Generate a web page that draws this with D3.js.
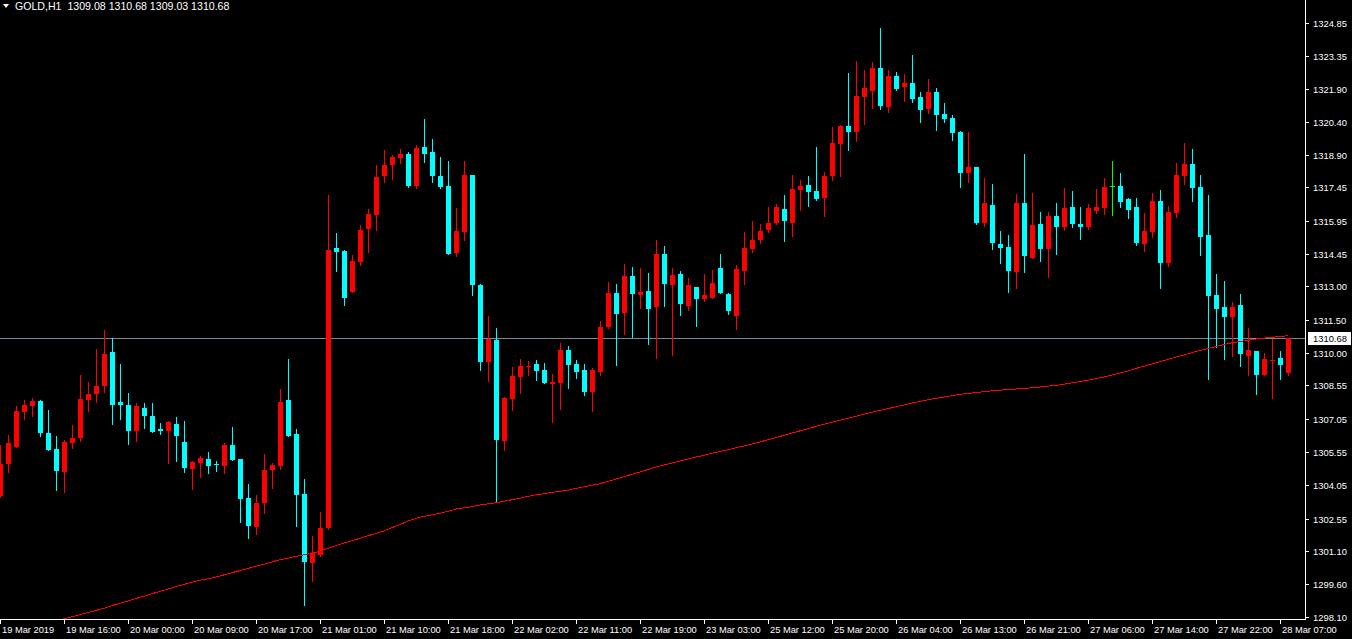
<!DOCTYPE html>
<html><head><meta charset="utf-8">
<script src="https://cdn.jsdelivr.net/npm/d3@7/dist/d3.min.js"></script>
<style>html,body{margin:0;padding:0;background:#000;overflow:hidden}</style>
</head><body>
<script>
// ---- data (GOLD, H1) ----
const symbol = "GOLD,H1";
const openV = [1303.56,1305.00,1305.78,1307.36,1307.61,1307.84,1306.40,1305.68,1304.65,1305.95,
1306.18,1307.88,1308.16,1308.52,1310.05,1307.80,1307.66,1306.49,1307.53,1307.17,
1306.58,1306.49,1306.80,1305.99,1304.78,1305.05,1305.23,1305.00,1304.92,1305.86,
1305.23,1303.48,1302.17,1303.25,1304.74,1304.92,1307.88,1306.36,1303.66,1300.55,
1300.91,1302.13,1314.73,1314.59,1312.75,1314.10,1315.58,1316.21,1317.97,1318.46,
1318.78,1318.96,1317.52,1319.27,1319.05,1317.97,1317.52,1314.50,1315.45,1318.01,
1313.06,1309.60,1310.59,1306.04,1307.93,1308.92,1309.37,1309.51,1309.24,1308.61,
1308.65,1310.14,1309.51,1309.24,1308.25,1309.15,1311.17,1312.70,1311.80,1313.47,
1312.61,1312.79,1312.07,1314.46,1313.06,1313.56,1312.12,1312.97,1312.43,1312.48,
1313.83,1312.66,1311.67,1313.69,1314.68,1315.09,1315.54,1315.85,1316.48,1315.85,
1317.34,1317.56,1317.29,1316.98,1317.97,1319.41,1320.22,1319.95,1321.52,1321.79,
1322.83,1321.07,1322.47,1321.97,1322.15,1321.52,1320.98,1321.75,1320.76,1320.58,
1319.95,1318.10,1318.37,1315.85,1316.66,1314.91,1314.77,1313.65,1316.75,1314.28,
1315.81,1314.68,1316.17,1315.67,1316.57,1315.81,1315.67,1316.39,1316.53,1317.50,
1317.52,1316.93,1316.57,1314.91,1315.45,1316.84,1314.05,1316.30,1317.97,1318.51,
1317.47,1315.31,1312.61,1312.07,1311.62,1312.16,1309.87,1310.09,1309.01,1309.64,
1309.78,1309.08];
const highV = [1305.86,1306.31,1307.61,1307.88,1307.98,1307.88,1307.43,1306.27,1306.08,1306.75,
1309.01,1308.70,1310.18,1311.04,1310.68,1309.51,1308.20,1307.75,1307.75,1307.75,
1306.85,1306.94,1307.12,1306.94,1305.14,1305.37,1305.55,1305.14,1305.94,1306.67,
1305.25,1304.11,1303.61,1305.46,1305.05,1308.38,1309.73,1306.58,1304.33,1301.77,
1302.85,1317.11,1315.40,1314.62,1314.41,1315.76,1316.48,1318.46,1319.14,1318.91,
1319.18,1319.05,1319.36,1320.53,1319.63,1318.82,1318.64,1316.53,1318.64,1318.03,
1313.11,1311.67,1311.13,1308.02,1309.37,1309.73,1309.64,1309.69,1309.55,1309.06,
1310.45,1310.32,1309.69,1309.51,1309.33,1311.44,1313.20,1313.11,1314.01,1313.87,
1313.83,1313.60,1315.09,1314.82,1313.83,1313.69,1313.38,1312.99,1313.56,1313.74,
1314.46,1312.68,1313.96,1315.45,1315.94,1315.81,1316.57,1316.71,1317.11,1318.01,
1317.79,1317.97,1319.27,1318.15,1320.17,1320.26,1322.60,1323.14,1322.74,1323.10,
1324.63,1322.74,1322.65,1322.56,1323.41,1321.75,1322.33,1321.93,1321.25,1320.71,
1319.99,1319.95,1318.39,1317.88,1317.61,1315.49,1315.31,1317.16,1318.96,1317.20,
1316.35,1316.35,1316.75,1317.43,1317.29,1316.57,1316.71,1317.38,1317.88,1318.64,
1318.10,1316.98,1316.98,1316.30,1317.20,1317.34,1316.62,1318.55,1319.45,1319.18,
1318.01,1317.11,1313.56,1313.24,1312.30,1312.66,1311.13,1310.11,1310.00,1310.63,
1310.09,1310.68];
const lowV = [1303.50,1304.66,1305.75,1307.03,1307.18,1306.28,1305.62,1303.84,1303.74,1305.73,
1306.04,1307.39,1307.80,1308.25,1306.81,1307.03,1305.90,1306.04,1306.63,1306.43,
1306.36,1305.05,1305.14,1304.65,1303.88,1304.42,1304.60,1304.69,1304.61,1305.17,
1302.40,1301.68,1301.86,1302.80,1303.93,1304.78,1306.25,1302.22,1298.66,1299.74,
1300.87,1302.08,1313.69,1312.16,1312.73,1313.96,1314.55,1315.54,1317.70,1317.83,
1318.55,1317.47,1317.43,1318.60,1317.70,1317.43,1314.44,1314.37,1315.09,1312.61,
1309.24,1308.74,1303.30,1305.64,1307.43,1308.20,1309.01,1308.79,1308.63,1306.90,
1307.48,1308.43,1308.88,1308.11,1307.39,1309.01,1311.13,1309.46,1310.86,1310.72,
1312.03,1310.41,1309.78,1312.12,1309.91,1311.71,1311.94,1311.22,1312.34,1312.46,
1312.68,1311.76,1311.08,1313.11,1314.55,1314.95,1315.45,1315.81,1315.04,1315.27,
1316.44,1316.62,1316.89,1316.17,1317.79,1317.97,1319.14,1319.54,1320.31,1321.03,
1320.98,1320.85,1321.84,1321.34,1321.30,1320.40,1320.80,1320.04,1320.40,1319.59,
1317.47,1317.70,1315.81,1315.72,1314.68,1314.05,1312.75,1312.93,1313.65,1314.26,
1314.14,1313.42,1314.46,1315.54,1315.67,1315.13,1315.58,1316.30,1316.26,1316.21,
1316.57,1316.08,1314.86,1314.59,1315.22,1312.93,1313.92,1316.12,1317.61,1316.84,
1314.41,1308.83,1310.27,1309.73,1309.87,1309.42,1309.01,1308.16,1308.99,1307.98,
1308.83,1309.03];
const closeV = [1305.00,1305.94,1307.39,1307.66,1307.84,1306.40,1305.64,1304.69,1305.99,1306.18,
1307.93,1308.16,1308.52,1309.96,1307.66,1307.66,1306.49,1307.61,1307.17,1306.45,
1306.49,1306.90,1306.27,1304.83,1305.10,1305.28,1304.92,1304.96,1305.86,1305.19,
1303.43,1302.22,1303.25,1304.74,1304.96,1307.80,1306.27,1303.61,1300.60,1301.00,
1302.13,1314.64,1314.55,1312.48,1314.14,1315.54,1316.26,1317.92,1318.46,1318.82,
1318.96,1317.52,1319.23,1318.96,1317.97,1317.47,1314.46,1315.49,1318.01,1313.06,
1309.60,1310.63,1306.09,1307.98,1308.97,1309.42,1309.42,1309.19,1308.65,1308.70,
1310.14,1309.46,1309.15,1308.25,1309.24,1311.17,1312.70,1311.76,1313.47,1312.66,
1312.75,1311.98,1314.46,1313.11,1313.51,1312.21,1313.06,1312.43,1312.61,1313.15,
1312.70,1311.89,1313.78,1314.73,1315.09,1315.49,1315.85,1316.57,1315.94,1317.38,
1317.52,1317.25,1316.93,1317.97,1319.45,1320.22,1319.95,1321.57,1321.93,1322.83,
1321.12,1322.47,1321.88,1322.15,1321.43,1320.94,1321.75,1320.71,1320.53,1319.90,
1318.10,1318.37,1315.85,1316.75,1314.95,1314.73,1313.69,1316.75,1314.37,1315.76,
1314.68,1316.17,1315.67,1316.53,1315.81,1315.67,1316.53,1316.57,1317.47,1317.50,
1316.80,1316.44,1314.95,1315.49,1316.84,1314.05,1316.35,1318.01,1318.51,1317.43,
1315.22,1312.57,1311.98,1311.62,1312.07,1309.96,1310.14,1309.01,1309.73,1309.69,
1309.46,1310.68];
// moving average (null where below the visible window)
const maV = [null,null,null,null,null,null,null,1297.94,1298.04,1298.13,
1298.23,1298.33,1298.42,1298.52,1298.63,1298.74,1298.85,1298.96,1299.06,1299.17,
1299.28,1299.38,1299.49,1299.59,1299.69,1299.78,1299.84,1299.92,1300.02,1300.12,
1300.21,1300.31,1300.41,1300.50,1300.60,1300.70,1300.77,1300.85,1300.92,1300.99,
1301.09,1301.21,1301.33,1301.45,1301.56,1301.67,1301.78,1301.89,1302.00,1302.15,
1302.29,1302.44,1302.57,1302.65,1302.72,1302.79,1302.88,1302.98,1303.03,1303.09,
1303.16,1303.21,1303.27,1303.33,1303.40,1303.47,1303.55,1303.62,1303.67,1303.73,
1303.78,1303.83,1303.91,1303.98,1304.05,1304.12,1304.23,1304.33,1304.44,1304.55,
1304.65,1304.76,1304.87,1304.96,1305.05,1305.14,1305.23,1305.32,1305.40,1305.49,
1305.57,1305.65,1305.74,1305.82,1305.91,1306.00,1306.10,1306.20,1306.30,1306.40,
1306.50,1306.60,1306.71,1306.80,1306.89,1306.98,1307.07,1307.16,1307.25,1307.34,
1307.42,1307.50,1307.59,1307.66,1307.75,1307.82,1307.90,1307.96,1308.02,1308.08,
1308.14,1308.18,1308.22,1308.26,1308.30,1308.33,1308.35,1308.38,1308.40,1308.44,
1308.47,1308.51,1308.54,1308.60,1308.66,1308.72,1308.78,1308.85,1308.92,1309.01,
1309.10,1309.20,1309.31,1309.41,1309.51,1309.62,1309.72,1309.82,1309.92,1310.02,
1310.12,1310.21,1310.30,1310.39,1310.46,1310.52,1310.57,1310.63,1310.67,1310.71,
1310.74,1310.78];
const timeTickIdx = [0,8,16,24,32,40,48,56,64,72,80,88,96,104,112,120,128,136,144,152,160];
const timeTickLabels = ["19 Mar 2019","19 Mar 16:00","20 Mar 00:00","20 Mar 09:00","20 Mar 17:00",
"21 Mar 01:00","21 Mar 10:00","21 Mar 18:00","22 Mar 02:00","22 Mar 11:00","22 Mar 19:00",
"23 Mar 03:00","25 Mar 12:00","25 Mar 20:00","26 Mar 04:00","26 Mar 13:00","26 Mar 21:00",
"27 Mar 06:00","27 Mar 14:00","27 Mar 22:00","28 Mar 07:00"];
const priceTicks = [1324.85,1323.35,1321.90,1320.40,1318.90,1317.45,1315.95,1314.45,1313.00,
1311.50,1310.00,1308.55,1307.05,1305.55,1304.05,1302.55,1301.10,1299.60,1298.10];
const bidPrice = 1310.68;

// ---- drawing ----
const W = 1352, H = 639;
const plotRight = 1305, plotBottom = 619;
const FONT = "'Liberation Sans', Arial, sans-serif";

const svg = d3.select("body").append("svg").attr("width", W).attr("height", H)
  .style("display","block").attr("shape-rendering","crispEdges");
svg.append("rect").attr("width",W).attr("height",H).attr("fill","#000");

const n = openV.length;
const x = d3.scaleLinear().domain([0, n-1]).range([0, 8*(n-1)]);
const y = d3.scaleLinear().domain([1298.10, 1324.85]).range([617.4, 23]);

const defs = svg.append("defs");
defs.append("clipPath").attr("id","plot").append("rect")
  .attr("x",0).attr("y",0).attr("width",plotRight).attr("height",plotBottom);

const g = svg.append("g").attr("clip-path","url(#plot)");

// bid line
g.append("line").attr("x1",0).attr("x2",plotRight)
  .attr("y1",Math.round(y(bidPrice))+0.5).attr("y2",Math.round(y(bidPrice))+0.5)
  .attr("stroke","#778899").attr("stroke-width",1);

const idx = d3.range(n);
const col = i => closeV[i] > openV[i] ? "#ff0000" : (closeV[i] < openV[i] ? "#00ffff" : "#00ff00");

// wicks
g.selectAll("rect.wick").data(idx).join("rect").attr("class","wick")
  .attr("x", i => x(i)).attr("width",1)
  .attr("y", i => Math.round(y(highV[i])))
  .attr("height", i => Math.round(y(lowV[i])) - Math.round(y(highV[i])) + 1)
  .attr("fill", col);
// bodies
g.selectAll("rect.body").data(idx).join("rect").attr("class","body")
  .attr("x", i => x(i) - 2).attr("width",5)
  .attr("y", i => Math.round(y(Math.max(openV[i],closeV[i]))))
  .attr("height", i => Math.max(1, Math.round(y(Math.min(openV[i],closeV[i]))) - Math.round(y(Math.max(openV[i],closeV[i])))))
  .attr("fill", col);

// moving average
const maLine = d3.line().defined(i => maV[i] !== null)
  .x(i => x(i) + 0.5).y(i => y(maV[i]));
g.append("path").attr("d", maLine(idx)).attr("fill","none")
  .attr("stroke","#ff0000").attr("stroke-width",1);

// axes frame
svg.append("line").attr("x1",plotRight+0.5).attr("x2",plotRight+0.5).attr("y1",0).attr("y2",plotBottom+1)
  .attr("stroke","#fff");
svg.append("line").attr("x1",0).attr("x2",plotRight+1).attr("y1",plotBottom+0.5).attr("y2",plotBottom+0.5)
  .attr("stroke","#fff");

// price axis
const pa = svg.append("g");
priceTicks.forEach(p => {
  const yy = Math.round(y(p));
  pa.append("line").attr("x1",plotRight+1).attr("x2",plotRight+4).attr("y1",yy+0.5).attr("y2",yy+0.5).attr("stroke","#fff");
  pa.append("text").attr("x",1313).attr("y",yy+4).attr("fill","#fff")
    .attr("font-family",FONT).attr("font-size","9.4px").text(p.toFixed(2));
});
// bid label
const by = Math.round(y(bidPrice));
pa.append("rect").attr("x",1308).attr("y",by-6).attr("width",43).attr("height",13).attr("fill","#fff");
pa.append("text").attr("x",1313).attr("y",by+4).attr("fill","#000")
  .attr("font-family",FONT).attr("font-size","9.4px").text(bidPrice.toFixed(2));

// time axis
const ta = svg.append("g");
timeTickIdx.forEach((k, j) => {
  const xx = x(k);
  ta.append("line").attr("x1",xx+0.5).attr("x2",xx+0.5).attr("y1",plotBottom).attr("y2",plotBottom+5).attr("stroke","#fff");
  ta.append("text").attr("x",xx+2).attr("y",633).attr("fill","#fff")
    .attr("font-family",FONT).attr("font-size","9.3px").text(timeTickLabels[j]);
});

// header
svg.append("path").attr("d","M3,4 L9,4 L6,8 Z").attr("fill","#fff").attr("shape-rendering","auto");
svg.append("text").attr("x",15).attr("y",10).attr("fill","#fff")
  .attr("font-family",FONT).attr("font-size","10.6px")
  .attr("xml:space","preserve").style("white-space","pre")
  .text(symbol + "  " + [openV[n-1],highV[n-1],lowV[n-1],closeV[n-1]].map(v=>v.toFixed(2)).join(" "));
</script>
</body></html>
